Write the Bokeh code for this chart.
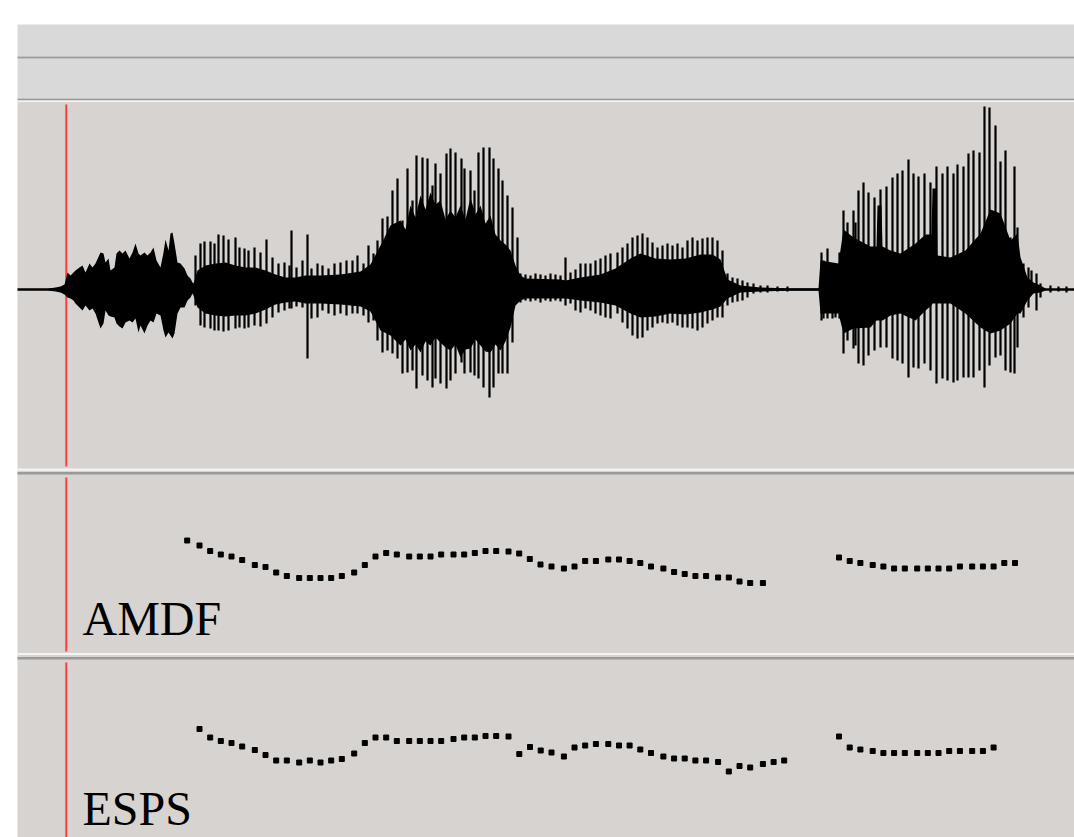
from bokeh.plotting import figure
from bokeh.models import Range1d
from bokeh.embed import file_html
from bokeh.resources import INLINE
from bokeh.core.properties import value

# ---------------- data (time in ms, amplitude in arbitrary units, pitch in Hz) -------------
sig_start, sig_end = 17, 1074
cursor_t = 65.8

# pitch pulses (min/max per pulse) of the waveform
spike_t = [195, 200, 204, 210, 214, 218, 223, 228, 235, 239, 244, 248, 254, 260, 266, 272, 278, 284, 289, 291, 296,
           302, 307, 311, 317, 322, 328, 334, 340, 346, 352, 357, 363, 368, 373, 377, 382, 387, 392, 397,
           402, 407, 412, 416, 422, 427, 432, 435, 440, 446, 450, 455, 461, 464, 470, 474, 478, 483, 489, 493,
           498, 502, 507, 512, 517, 520, 525, 530, 535, 540, 545, 550, 555, 560,
           565, 570, 575, 580, 585, 590, 595, 600, 605, 610, 617, 622, 627, 632, 637, 642, 647, 652, 657, 662,
           667, 672, 677, 682, 687, 692, 697, 702, 707, 712, 717, 722, 727, 732, 737, 742, 747, 753, 760, 767,
           777, 787,
           821, 823, 827, 832, 835, 839, 843, 847, 853, 855, 858, 863, 868, 874, 880, 886, 892, 897, 902, 908,
           913, 918, 924, 930, 936, 942, 947, 953, 957, 963, 968, 973, 979, 984, 989, 995, 1000, 1005, 1010,
           1014, 1017, 1023, 1028, 1031, 1036, 1040, 1050, 1058, 1066]
spike_max = [34, 46, 48, 48, 46, 55, 54, 50, 52, 42, 41, 39, 42, 37, 50, 32, 26, 27, 24, 59, 22,
             29, 55, 21, 26, 24, 21, 26, 27, 29, 29, 34, 26, 44, 36, 49, 71, 73, 99, 111,
             69, 121, 89, 134, 132, 131, 104, 126, 116, 136, 141, 137, 131, 121, 119, 99, 137, 142, 142, 131,
             121, 109, 94, 82, 52, 16, 15, 14, 16, 15, 14, 16, 15, 14,
             32, 17, 20, 26, 26, 26, 29, 31, 34, 36, 37, 42, 46, 52, 54, 56, 52, 47, 42, 44,
             46, 44, 46, 42, 49, 52, 49, 51, 52, 52, 49, 39, 16, 12, 11, 9, 7, 6, 4, 4,
             3, 3,
             37, 29, 41, 22, 22, 37, 79, 67, 79, 67, 99, 107, 97, 92, 100, 103, 112, 116, 119, 130,
             116, 113, 116, 107, 123, 116, 123, 116, 125, 123, 136, 139, 137, 183, 182, 164, 128, 139, 52,
             123, 62, 26, 22, 19, 16, 6, 4, 3, 3]
spike_min = [-16, -36, -38, -39, -41, -41, -42, -41, -39, -38, -39, -38, -36, -37, -34, -28, -23, -21, -19, -19, -17,
             -18, -69, -29, -28, -21, -24, -26, -24, -26, -24, -24, -26, -33, -31, -51, -63, -61, -64, -69,
             -84, -83, -81, -99, -86, -91, -98, -89, -94, -99, -91, -84, -73, -84, -83, -86, -89, -98, -108, -98,
             -84, -84, -84, -53, -11, -13, -11, -12, -11, -13, -11, -12, -11, -12,
             -16, -14, -21, -23, -19, -21, -24, -26, -28, -29, -24, -33, -39, -46, -49, -48, -41, -38, -34, -33,
             -34, -33, -36, -38, -38, -39, -41, -38, -34, -31, -28, -28, -16, -13, -12, -11, -8, -4, -3, -3,
             -2, -2,
             -31, -29, -29, -29, -28, -29, -64, -51, -59, -56, -74, -76, -66, -61, -58, -58, -69, -71, -74, -88,
             -78, -79, -74, -81, -94, -89, -91, -93, -91, -88, -88, -88, -81, -98, -76, -68, -66, -81, -83,
             -84, -58, -28, -18, -4, -21, -8, -3, -2, -3]

# dense core of the waveform (upper / lower envelope)
core_t = [48, 55, 60, 64,
          67, 70, 73, 75, 79, 82, 85, 89, 92, 95, 100, 103, 105, 108, 110, 114, 116, 119, 122, 125, 129, 132,
          135, 138, 140, 144, 147, 150, 153, 156, 160, 163, 165, 168, 170, 172, 174, 177, 180, 184, 187, 190, 192,
          193, 197, 205, 215, 225, 235, 245, 255, 265, 275, 285, 295,
          305, 320, 340, 360, 370, 380, 390, 400, 405, 410, 415, 420, 425, 430, 435, 440, 445, 450, 455, 460,
          465, 470, 475, 480, 485, 490, 495, 500, 505, 510, 515,
          520, 525, 560,
          565, 580, 600, 615, 630, 640, 655, 670, 685, 700, 712, 720, 727, 740, 760, 790, 818,
          820, 838, 843, 853, 870, 876, 877, 881, 882, 890, 900, 915, 925, 931, 932, 936, 937, 950, 965, 980,
          990, 1000, 1010, 1017, 1020, 1027, 1033, 1040, 1045]
core_max = [1, 2, 3, 5,
            17, 14, 17, 19, 22, 24, 17, 26, 22, 26, 37, 36, 27, 31, 19, 22, 36, 39, 36, 39, 31, 37,
            46, 36, 34, 37, 34, 37, 42, 29, 22, 37, 50, 39, 56, 57, 46, 27, 26, 21, 14, 11, 7,
            6, 19, 24, 26, 27, 24, 22, 22, 19, 15, 12, 12,
            14, 14, 15, 18, 25, 44, 64, 69, 60, 84, 72, 94, 80, 97, 85, 89, 70, 79, 72, 84,
            70, 92, 75, 84, 66, 74, 55, 49, 45, 39, 24,
            14, 11, 10,
            9, 12, 15, 21, 31, 36, 31, 30, 31, 35, 35, 30, 10, 4, 2, 1, 1,
            29, 26, 60, 52, 43, 43, 84, 84, 43, 39, 36, 46, 55, 55, 101, 101, 34, 32, 39, 56,
            80, 76, 49, 56, 32, 12, 7, 4, 1]
core_min = [-1, -2, -3, -5,
            -8, -9, -11, -14, -18, -21, -16, -21, -19, -24, -39, -34, -21, -26, -27, -28, -34, -37, -39, -33, -31, -33,
            -29, -43, -36, -44, -36, -31, -33, -24, -26, -41, -48, -43, -46, -49, -44, -24, -18, -18, -11, -8, -4,
            -6, -18, -24, -26, -27, -26, -26, -24, -20, -15, -13, -12,
            -14, -14, -15, -17, -22, -41, -46, -56, -50, -61, -55, -63, -52, -56, -48, -53, -58, -61, -55, -68,
            -60, -59, -50, -56, -62, -63, -55, -61, -52, -38, -16,
            -11, -9, -9,
            -9, -11, -13, -16, -24, -28, -27, -24, -25, -23, -20, -17, -9, -3, -2, -1, -1,
            -24, -24, -44, -39, -38, -31, -31, -31, -31, -26, -24, -31, -21, -16, -14, -14, -14, -14, -24, -38,
            -44, -41, -34, -24, -24, -11, -4, -3, -1]

# pitch tracks (Hz)
amdf_t = [186.7, 199, 209.7, 220.3, 231, 241.7, 254.3, 265, 275.7, 286.3, 298.7, 309.3, 320, 330.7, 341.3,
          353.7, 364.3, 375, 385.7, 396.3, 408.7, 419.3, 430, 440.7, 453, 463.7, 474.3, 485, 495.7, 508,
          518.7, 529.3, 540, 551, 563.4, 574, 584.7, 595.4, 607.8, 618.5, 629.1, 639.8, 650.5, 662.9, 673.6,
          684.2, 694.9, 705.6, 717.6, 728.3, 739, 749.7, 762.4,
          838.5, 849.2, 859.9, 872.2, 882.9, 893.6, 904.3, 916.7, 927.3, 938, 948.7, 959.4, 971.7, 982.4,
          993.1, 1003.8, 1014.5]
amdf_f0 = [330, 320, 309, 302, 298, 291, 281, 277, 266, 259, 255, 255, 255, 255, 259,
           266, 281, 298, 305, 302, 298, 298, 298, 302, 302, 302, 305, 309, 309, 308,
           304, 293, 282, 278, 274, 278, 289, 289, 292, 292, 289, 285, 278, 274, 267,
           263, 259, 259, 256, 256, 248, 245, 245,
           296, 289, 285, 281, 278, 274, 274, 274, 274, 274, 274, 278, 278, 278,
           278, 285, 285]

esps_t = [199, 209.7, 220.3, 231, 241.7, 254.3, 265, 275.7, 286.3, 298.7, 309.3, 320, 330.7, 341.3, 353.7,
          364.3, 375, 385.7, 396.3, 408.7, 419.3, 430, 440.7, 453, 463.7, 474.3, 485, 495.7, 508,
          518.8, 529.5, 540.2, 551, 563.4, 574, 584.7, 595.4, 607.8, 618.5, 629.1, 639.8, 650.5, 662.9,
          673.6, 684.2, 694.9, 705.6, 717.6, 728.3, 739, 749.7, 762.4, 773.1, 783.7,
          838.5, 849.2, 859.9, 872.2, 882.9, 893.6, 904.3, 916.7, 927.3, 938, 948.7, 959.4, 971.7, 982.4, 993.1]
esps_f0 = [323, 306, 299, 295, 288, 281, 271, 260, 260, 256, 260, 256, 260, 263, 274,
           295, 306, 306, 299, 299, 299, 299, 299, 303, 306, 306, 309, 309, 308,
           273, 287, 280, 276, 268, 286, 290, 293, 293, 290, 290, 282, 275, 268,
           264, 264, 260, 260, 257, 238, 249, 246, 253, 257, 260,
           308, 286, 282, 279, 275, 275, 275, 275, 275, 275, 279, 279, 279, 279, 286]

labels = ["AMDF", "ESPS"]

# ---------------- figure -------------
p = figure(width=1074, height=837, x_range=Range1d(0, 1074), y_range=Range1d(837, 0),
           output_backend="svg", toolbar_location=None, x_axis_type=None, y_axis_type=None,
           min_border=0, outline_line_color=None,
           background_fill_color="white", border_fill_color="white")
p.min_border_left = p.min_border_right = p.min_border_top = p.min_border_bottom = 0
p.extra_y_ranges = {"amp": Range1d(-548, 289),
                    "amdf": Range1d(-264, 1410),
                    "esps": Range1d(106, 1780)}

# window chrome (pixel coordinates of the layout)
L, R = 17, 1074
p.quad(left=L, right=R, top=[24, 58], bottom=[56, 98], color="#d9d9d9", line_color=None)
p.quad(left=L, right=R, top=100, bottom=837, color="#d6d3d0", line_color=None)
p.quad(left=L, right=R, top=[56, 98, 471.5, 656.5], bottom=[58, 100, 474, 659],
       color="#999999", line_color=None)
p.quad(left=L, right=R, top=[100, 468, 652.5], bottom=[101.5, 470.2, 654.6],
       color="#f4f4f4", line_color=None)

# cursor
p.segment(x0=cursor_t, x1=cursor_t, y0=[104, 477, 662], y1=[466, 651, 837],
          line_color="#ff3c3c", line_width=2)

# waveform
p.segment(x0=sig_start, x1=sig_end, y0=0, y1=0, line_color="black", line_width=2.5, y_range_name="amp")
p.varea(x=core_t, y1=core_min, y2=core_max, fill_color="black", y_range_name="amp")
p.segment(x0=spike_t, x1=spike_t, y0=spike_min, y1=spike_max, line_color="black",
          line_width=2.2, y_range_name="amp")

# pitch tracks
p.scatter(x=amdf_t, y=amdf_f0, marker="square", size=5, color="black", y_range_name="amdf")
p.scatter(x=esps_t, y=esps_f0, marker="square", size=5, color="black", y_range_name="esps")

p.text(x=[82, 82], y=[618, 808], text=labels, text_font=value("Liberation Serif"),
       text_font_size="48px", text_baseline="alphabetic", text_align="left", text_color="black")

open("out.html", "w").write(file_html(p, INLINE))
